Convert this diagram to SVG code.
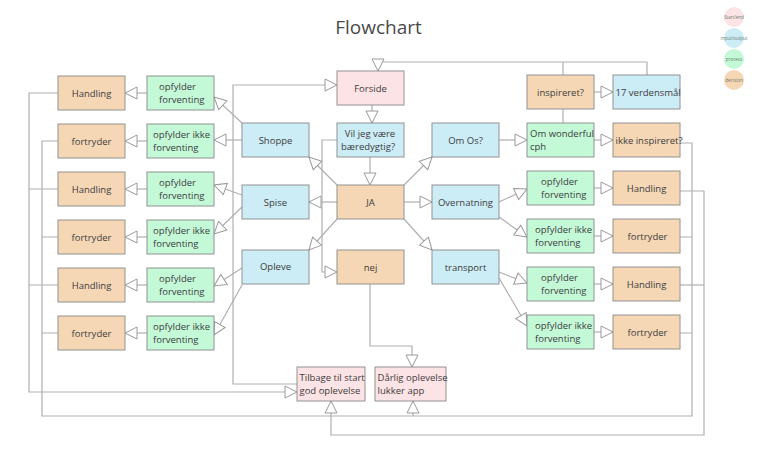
<svg xmlns="http://www.w3.org/2000/svg" width="757" height="449" viewBox="0 0 757 449">
<style>
text{font-family:"Open Sans","Noto Sans","DejaVu Sans",sans-serif;font-size:9.5px;fill:#3d3d3d}
.c{text-anchor:middle}
.box{stroke:#929292;stroke-width:1}
.or{fill:#f5d7b6}.gr{fill:#c4f9d8}.bl{fill:#ccecf6}.pk{fill:#fce3e5}
.ln{fill:none;stroke:#b0b0b0;stroke-width:1.2}
.lg{font-size:4.5px;fill:#6b7b6b;text-anchor:middle}
.title{font-size:19px;fill:#4a4a4a;text-anchor:middle}
</style>
<defs>
<marker id="ar" viewBox="0 0 14 14" markerWidth="14" markerHeight="14" markerUnits="userSpaceOnUse" refX="13" refY="7" orient="auto">
<path d="M1,1 L13,7 L1,13 Z" fill="#fff" stroke="#9a9a9a" stroke-width="1"/>
</marker>
</defs>
<rect width="757" height="449" fill="#fff"/>
<text class="title" x="378.5" y="34">Flowchart</text>
<g id="legend">
<circle cx="734" cy="17" r="10" class="pk"/><text class="lg" x="734" y="18.5">Start/end</text>
<circle cx="734" cy="38" r="10" class="bl"/><text class="lg" x="734" y="39.5">input/output</text>
<circle cx="734" cy="59" r="10" class="gr"/><text class="lg" x="734" y="60.5">process</text>
<circle cx="734" cy="80" r="10" class="or"/><text class="lg" x="734" y="81.5">decision</text>
</g>
<g id="connectors">
<path class="ln" d="M563,123 V62"/>
<path class="ln" d="M647,75 V62 H378 V71" marker-end="url(#ar)"/>
<path class="ln" d="M372,105 V123" marker-end="url(#ar)"/>
<path class="ln" d="M370,157 V185" marker-end="url(#ar)"/>
<path class="ln" d="M337,202 H309" marker-end="url(#ar)"/>
<path class="ln" d="M337,140 H322 V272 H337" marker-end="url(#ar)"/>
<path class="ln" d="M337,185 L309,157" marker-end="url(#ar)"/>
<path class="ln" d="M337,219 L309,250" marker-end="url(#ar)"/>
<path class="ln" d="M404,185 L432,157" marker-end="url(#ar)"/>
<path class="ln" d="M404,202 H432" marker-end="url(#ar)"/>
<path class="ln" d="M404,219 L432,250" marker-end="url(#ar)"/>
<path class="ln" d="M370,284 V346 H412 V367" marker-end="url(#ar)"/>
<path class="ln" d="M499,140 H527" marker-end="url(#ar)"/>
<path class="ln" d="M594,140 H613" marker-end="url(#ar)"/>
<path class="ln" d="M594,92 H613" marker-end="url(#ar)"/>
<path class="ln" d="M499,202 L527,189" marker-end="url(#ar)"/>
<path class="ln" d="M499,217 L527,237" marker-end="url(#ar)"/>
<path class="ln" d="M499,272 L527,283" marker-end="url(#ar)"/>
<path class="ln" d="M499,278 L527,326" marker-end="url(#ar)"/>
<path class="ln" d="M594,188 H613" marker-end="url(#ar)"/>
<path class="ln" d="M594,236 H613" marker-end="url(#ar)"/>
<path class="ln" d="M594,284 H613" marker-end="url(#ar)"/>
<path class="ln" d="M594,332 H613" marker-end="url(#ar)"/>
<path class="ln" d="M680,143 H692 V416 H42 V141 H58"/>
<path class="ln" d="M680,237 H692 M680,333 H692"/>
<path class="ln" d="M413,416 V401" marker-end="url(#ar)"/>
<path class="ln" d="M680,191 H704 V435 H331 V401" marker-end="url(#ar)"/>
<path class="ln" d="M680,285 H704"/>
<path class="ln" d="M58,237 H42 M58,333 H42"/>
<path class="ln" d="M58,93 H29 V392 H297" marker-end="url(#ar)"/>
<path class="ln" d="M58,189 H29 M58,285 H29"/>
<path class="ln" d="M297,384 H233 V85 H337" marker-end="url(#ar)"/>
<path class="ln" d="M147,93 H125" marker-end="url(#ar)"/>
<path class="ln" d="M147,141 H125" marker-end="url(#ar)"/>
<path class="ln" d="M147,189 H125" marker-end="url(#ar)"/>
<path class="ln" d="M147,237 H125" marker-end="url(#ar)"/>
<path class="ln" d="M147,285 H125" marker-end="url(#ar)"/>
<path class="ln" d="M147,333 H125" marker-end="url(#ar)"/>
<path class="ln" d="M242,123 L214,97" marker-end="url(#ar)"/>
<path class="ln" d="M242,140 H214" marker-end="url(#ar)"/>
<path class="ln" d="M242,195 L214,185" marker-end="url(#ar)"/>
<path class="ln" d="M242,207 L214,234" marker-end="url(#ar)"/>
<path class="ln" d="M242,268 L214,286" marker-end="url(#ar)"/>
<path class="ln" d="M242,285 L214,335" marker-end="url(#ar)"/>
</g>
<g id="n-handling1"><rect class="box or" x="58" y="76" width="67" height="34"/><text class="c" x="91.5" y="96.5">Handling</text></g>
<g id="n-fortryder1"><rect class="box or" x="58" y="124" width="67" height="34"/><text class="c" x="91.5" y="144.5">fortryder</text></g>
<g id="n-handling2"><rect class="box or" x="58" y="172" width="67" height="34"/><text class="c" x="91.5" y="192.5">Handling</text></g>
<g id="n-fortryder2"><rect class="box or" x="58" y="220" width="67" height="34"/><text class="c" x="91.5" y="240.5">fortryder</text></g>
<g id="n-handling3"><rect class="box or" x="58" y="268" width="67" height="34"/><text class="c" x="91.5" y="288.5">Handling</text></g>
<g id="n-fortryder3"><rect class="box or" x="58" y="316" width="67" height="34"/><text class="c" x="91.5" y="336.5">fortryder</text></g>
<g id="n-opf1"><rect class="box gr" x="147" y="76" width="67" height="34"/><text x="159" y="90">opfylder</text><text x="159" y="103">forventing</text></g>
<g id="n-opfi1"><rect class="box gr" x="147" y="124" width="67" height="34"/><text x="153" y="138">opfylder ikke</text><text x="153" y="151">forventing</text></g>
<g id="n-opf2"><rect class="box gr" x="147" y="172" width="67" height="34"/><text x="159" y="186">opfylder</text><text x="159" y="199">forventing</text></g>
<g id="n-opfi2"><rect class="box gr" x="147" y="220" width="67" height="34"/><text x="153" y="234">opfylder ikke</text><text x="153" y="247">forventing</text></g>
<g id="n-opf3"><rect class="box gr" x="147" y="268" width="67" height="34"/><text x="159" y="282">opfylder</text><text x="159" y="295">forventing</text></g>
<g id="n-opfi3"><rect class="box gr" x="147" y="316" width="67" height="34"/><text x="153" y="330">opfylder ikke</text><text x="153" y="343">forventing</text></g>
<g id="n-shoppe"><rect class="box bl" x="242" y="123" width="67" height="34"/><text class="c" x="275.5" y="143.5">Shoppe</text></g>
<g id="n-spise"><rect class="box bl" x="242" y="185" width="67" height="34"/><text class="c" x="275.5" y="205.5">Spise</text></g>
<g id="n-opleve"><rect class="box bl" x="242" y="250" width="67" height="34"/><text class="c" x="275.5" y="269.5">Opleve</text></g>
<g id="n-forside"><rect class="box pk" x="337" y="71" width="67" height="34"/><text class="c" x="370.5" y="91.5">Forside</text></g>
<g id="n-vil"><rect class="box bl" x="337" y="123" width="67" height="34"/><text class="c" x="370" y="137">Vil jeg være</text><text class="c" x="368" y="150">bæredygtig?</text></g>
<g id="n-ja"><rect class="box or" x="337" y="185" width="67" height="34"/><text class="c" x="370.5" y="205.5">JA</text></g>
<g id="n-nej"><rect class="box or" x="337" y="250" width="67" height="34"/><text class="c" x="370.5" y="270.5">nej</text></g>
<g id="n-omos"><rect class="box bl" x="432" y="123" width="67" height="34"/><text class="c" x="465.5" y="143.5">Om Os?</text></g>
<g id="n-overnatning"><rect class="box bl" x="432" y="185" width="67" height="34"/><text class="c" x="465.5" y="205.5">Overnatning</text></g>
<g id="n-transport"><rect class="box bl" x="432" y="250" width="67" height="34"/><text class="c" x="465.5" y="270.5">transport</text></g>
<g id="n-inspireret"><rect class="box or" x="527" y="75" width="67" height="34"/><text class="c" x="560.5" y="95.5">inspireret?</text></g>
<g id="n-17"><rect class="box bl" x="613" y="75" width="67" height="34"/><text x="615.5" y="95.5">17 verdensmål</text></g>
<g id="n-omwonderful"><rect class="box gr" x="527" y="123" width="67" height="34"/><text x="530" y="137">Om wonderful</text><text x="530" y="150">cph</text></g>
<g id="n-ikkeinsp"><rect class="box or" x="613" y="123" width="67" height="34"/><text x="615.5" y="143.5">ikke inspireret?</text></g>
<g id="n-ropf1"><rect class="box gr" x="527" y="171" width="67" height="34"/><text x="541" y="185">opfylder</text><text x="541" y="198">forventing</text></g>
<g id="n-rhandling1"><rect class="box or" x="613" y="171" width="67" height="34"/><text class="c" x="646.5" y="191.5">Handling</text></g>
<g id="n-ropfi1"><rect class="box gr" x="527" y="219" width="67" height="34"/><text x="535" y="233">opfylder ikke</text><text x="535" y="246">forventing</text></g>
<g id="n-rfortryder1"><rect class="box or" x="613" y="219" width="67" height="34"/><text class="c" x="647.5" y="239.5">fortryder</text></g>
<g id="n-ropf2"><rect class="box gr" x="527" y="267" width="67" height="34"/><text x="541" y="281">opfylder</text><text x="541" y="294">forventing</text></g>
<g id="n-rhandling2"><rect class="box or" x="613" y="267" width="67" height="34"/><text class="c" x="646.5" y="287.5">Handling</text></g>
<g id="n-ropfi2"><rect class="box gr" x="527" y="315" width="67" height="34"/><text x="535" y="329">opfylder ikke</text><text x="535" y="342">forventing</text></g>
<g id="n-rfortryder2"><rect class="box or" x="613" y="315" width="67" height="34"/><text class="c" x="647.5" y="335.5">fortryder</text></g>
<g id="n-tilbage"><rect class="box pk" x="297" y="367" width="68" height="34"/><text x="299.5" y="381">Tilbage til start</text><text x="299.5" y="394">god oplevelse</text></g>
<g id="n-daarlig"><rect class="box pk" x="375" y="367" width="71" height="34"/><text x="377.5" y="381">Dårlig oplevelse</text><text x="377.5" y="394">lukker app</text></g>
</svg>
